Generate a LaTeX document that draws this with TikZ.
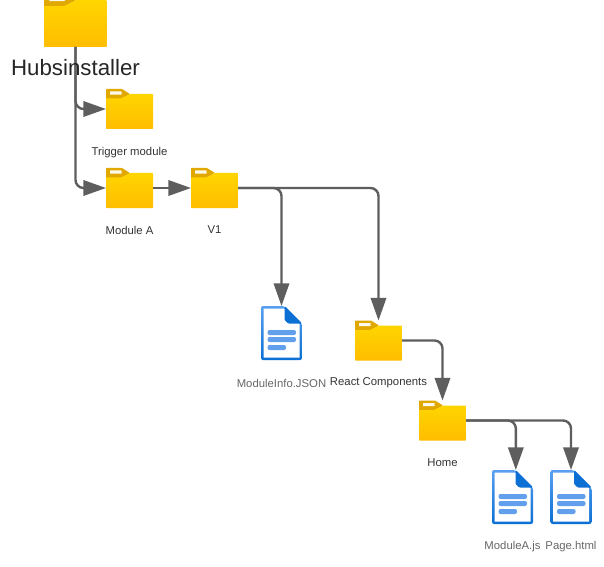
\documentclass[tikz,border=0pt]{standalone}
\usepackage{fontspec}
\setmainfont{Liberation Sans}
\usetikzlibrary{arrows.meta,calc,positioning}
\definecolor{foldertop}{HTML}{FFD500}
\definecolor{folderbot}{HTML}{FFBD00}
\definecolor{foldertab}{HTML}{E0A800}
\definecolor{doctop}{HTML}{5BA0F0}
\definecolor{docbot}{HTML}{0B6FD3}
\definecolor{docline}{HTML}{62A0EE}
\definecolor{linkgrey}{HTML}{5E5E5E}
\tikzset{%
	folder/.style = {rectangle, inner sep=0pt, outer sep=0pt, minimum width=#1*35.25pt, minimum height=#1*30pt,
		path picture={
			\begin{scope}[x=#1*0.75pt,y=-#1*0.75pt]
				\fill[foldertab,rounded corners=0.5pt] (-23.5,-10) -- (-23.5,-20) -- (-7.5,-20) -- (0.5,-15) -- (-8.5,-10) -- cycle;
				\fill[white!92!foldertab,rounded corners=0.3pt] (-19.5,-17.5) rectangle (-8,-14.3);
				\shade[top color=foldertop,bottom color=folderbot,rounded corners=0.5pt] (-23.5,20) -- (-23.5,-10.5) -- (-8.5,-10.5) -- (0.5,-15) -- (23.5,-15) -- (23.5,20) -- cycle;
			\end{scope}
		}},
	docfile/.style = {rectangle, inner sep=0pt, outer sep=0pt, minimum width=30.75pt, minimum height=40.5pt,
		path picture={
			\begin{scope}[x=0.75pt,y=-0.75pt]
				\shade[top color=doctop,bottom color=docbot,rounded corners=1.5pt] (-20.5,-27) -- (3,-27) -- (20.5,-9.5) -- (20.5,27) -- (-20.5,27) -- cycle;
				\fill[white] (-18,-24.5) -- (2.5,-24.5) -- (18,-9) -- (18,24.5) -- (-18,24.5) -- cycle;
				\fill[docbot,rounded corners=0.8pt] (3,-27) -- (20.5,-9.5) -- (6.5,-9.5) -- (3,-13) -- cycle;
				\fill[docline,rounded corners=1.5pt] (-14,-3) rectangle (14.5,2);
				\fill[docline,rounded corners=1.5pt] (-14,4) rectangle (14.5,9);
				\fill[docline,rounded corners=1.5pt] (-14,12) rectangle (4.5,17);
			\end{scope}
		}},
	caption/.style = {text=black!80, font=\fontsize{8.5pt}{10pt}\selectfont, inner sep=0pt},
	captiongrey/.style = {caption, text=black!60},
	link/.style = {draw=linkgrey, line width=1.8pt, rounded corners=6pt, -{Triangle[length=17pt,width=11.5pt]}},
}
\begin{document}
\begin{tikzpicture}[x=0.75pt,y=-0.75pt,node distance=31.5pt]
	\useasboundingbox (0,0) rectangle (604,567);

	\node [folder=1.34] (hub) at (75.5,20.2) {};
	\node [folder=1] (trig) at (129.5,109) {};
	\node [folder=1] (modA) at (129.5,188) {};
	\node [folder=1] (vone) [right of=modA,node distance=63.75pt] {};
	\node [folder=1] (react) at (378.5,340.5) {};
	\node [folder=1] (home) at (442.5,420.5) {};
	\node [docfile] (info) at (281.5,333) {};
	\node [docfile] (jsfile) at (512.5,497) {};
	\node [docfile] (page) at (571,497) {};

	\draw[link] (hub.south) |- (trig.west);
	\draw[link] (hub.south) |- (modA.west);
	\draw[link] (modA) -- (vone);
	\draw[link] (vone.east) -| (info.north);
	\draw[link] (vone.east) -| (react.north);
	\draw[link] (react.east) -| (home.north);
	\draw[link] (home.east) -| ([xshift=2.5pt]jsfile.north);
	\draw[link] (home.east) -| (page.north);

	\node [text=black!85, font=\fontsize{16.7pt}{20pt}\selectfont, inner sep=0pt] (hubtxt) at (75.5,68) {Hubsinstaller};
	\node [caption,below of=trig,node distance=32.5pt] (trigtxt) {Trigger module};
	\node [caption,below of=modA] (modAtxt) {Module A};
	\node [caption,below of=vone] (vonetxt) {V1};
	\node [captiongrey,below of=info,node distance=37.5pt] (infotxt) {ModuleInfo.JSON};
	\node [caption,below of=react,node distance=32pt] (reacttxt) {React Components};
	\node [caption,below of=home,node distance=31.5pt] (hometxt) {Home};
	\node [captiongrey,below of=jsfile,node distance=37.5pt] (jstxt) {ModuleA.js};
	\node [captiongrey,below of=page,node distance=37.5pt] (pagetxt) {Page.html};
\end{tikzpicture}
\end{document}
